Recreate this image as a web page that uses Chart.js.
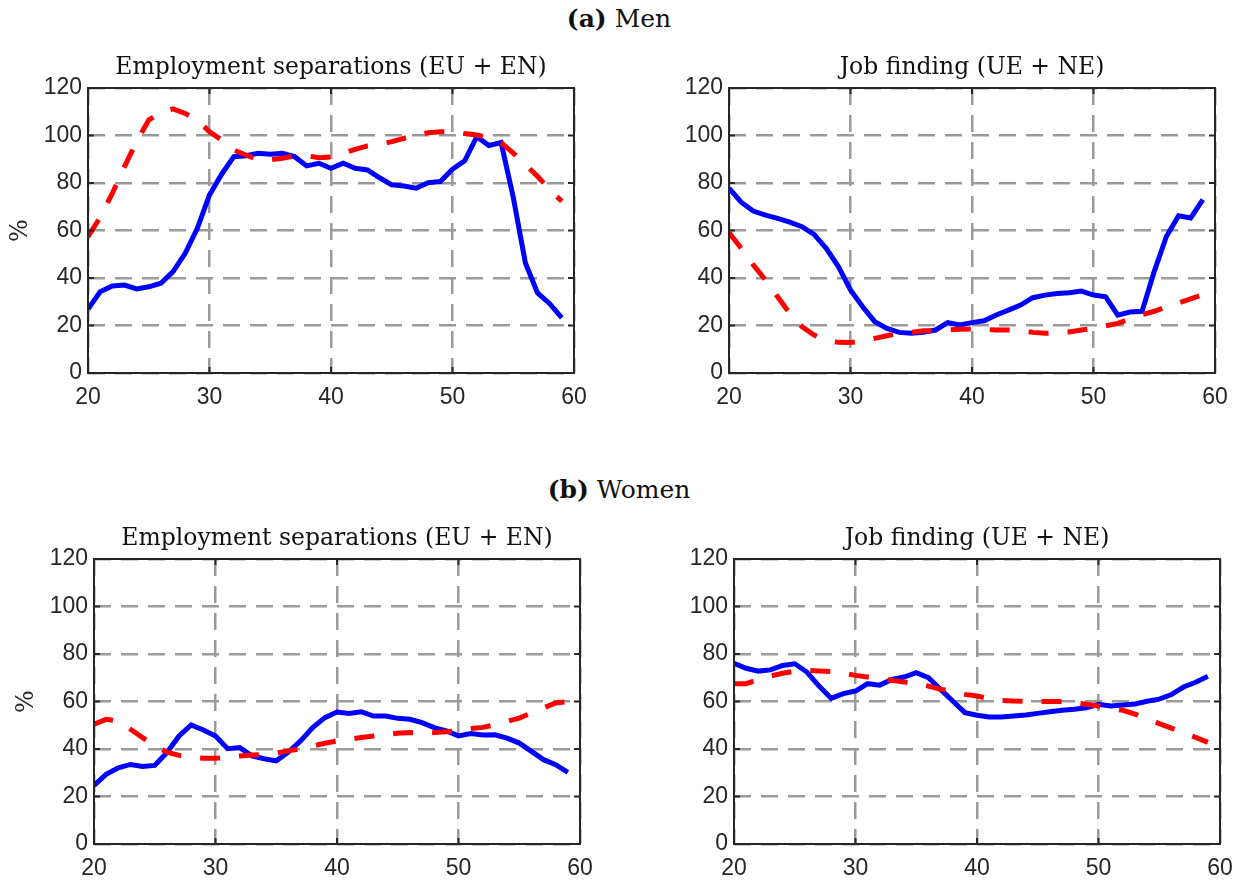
<!DOCTYPE html>
<html>
<head>
<meta charset="utf-8">
<script src="https://cdn.jsdelivr.net/npm/chart.js@4.4.0/dist/chart.umd.min.js"></script>
<style>
  html, body { margin: 0; padding: 0; background: #fff; overflow: hidden; }
  body { width: 1247px; height: 883px; position: relative; }
  canvas { position: absolute; }
  .panel-head {
    position: absolute; left: 0; width: 1238px; text-align: center;
    font-family: "DejaVu Serif", serif; font-size: 25px; line-height: 28px; color: #111;
  }
</style>
</head>
<body>
<div class="panel-head" style="top:5px"><b>(a)</b> Men</div>
<div class="panel-head" style="top:476px"><b>(b)</b> Women</div>
<canvas id="menSep"></canvas>
<canvas id="menJf"></canvas>
<canvas id="womenSep"></canvas>
<canvas id="womenJf"></canvas>
<script>
// ages 20..59
const ages = [20, 21, 22, 23, 24, 25, 26, 27, 28, 29,
              30, 31, 32, 33, 34, 35, 36, 37, 38, 39,
              40, 41, 42, 43, 44, 45, 46, 47, 48, 49,
              50, 51, 52, 53, 54, 55, 56, 57, 58, 59];

const xTicks = [20, 30, 40, 50, 60];
const yTicks = [0, 20, 40, 60, 80, 100, 120];

// men, employment separations (EU + EN)
const menSepData = [26.9, 34.2, 36.6, 37, 35.4, 36.3, 37.8, 42.7, 50.4, 60.9,
                    75, 83.7, 91.1, 91.5, 92.5, 92.1, 92.5, 91.1, 87.2, 88.3,
                    86.2, 88.3, 86.2, 85.5, 82.2, 79.2, 78.7, 77.8, 80.1, 80.6,
                    85.8, 89.3, 99.5, 95.8, 97, 74, 46.3, 33.7, 29.2, 23.2];
const menSepModel = [57.4, 65.5, 75.6, 86.9, 97.4, 106.5, 109.8, 111.2, 109.3, 106.5,
                     101.6, 98.1, 93.9, 91.8, 89.7, 89.8, 90.4, 91.4, 91.5, 90.6,
                     91, 92.5, 94.2, 95.6, 96.2, 97.4, 98.8, 100.2, 101.2, 101.6,
                     101.6, 100.8, 100.2, 99, 97, 92.6, 87.7, 82.8, 77.2, 72.3];

// men, job finding (UE + NE)
const menJfData = [77.8, 71.9, 68.2, 66.5, 65.1, 63.5, 61.6, 58.4, 52.5, 44.8,
                   35, 27.9, 21.6, 18.8, 17.1, 16.7, 17.1, 18.1, 21.2, 20.2,
                   21.2, 22, 24.4, 26.5, 28.6, 31.7, 32.8, 33.5, 33.8, 34.5,
                   32.8, 32.1, 24.4, 25.7, 26, 42.8, 57.5, 66.2, 65.3, 73];
const menJfModel = [59.2, 52.5, 45.5, 39.2, 32.1, 25.1, 19.5, 16, 13.9, 12.9,
                    12.8, 13.5, 14.6, 15.7, 16.7, 17.1, 17.8, 17.8, 18.1, 18.4,
                    18.5, 18.4, 18.1, 18.1, 17.8, 17.1, 16.7, 16.9, 17.3, 18.1,
                    18.8, 19.9, 20.9, 22.7, 24.6, 26, 27.8, 29.5, 31.2, 33];

// women, employment separations (EU + EN)
const womenSepData = [24.7, 29.3, 32.1, 33.5, 32.6, 33.1, 38.5, 45.5, 50.1, 48,
                      45.5, 40.1, 40.6, 37.1, 35.9, 35, 38.7, 43.4, 49, 53.2,
                      55.6, 55, 55.7, 53.9, 53.9, 52.9, 52.5, 51.1, 49, 47.6,
                      45.5, 46.5, 45.9, 46, 44.6, 42.5, 39, 35.5, 33.4, 30.2];
const womenSepModel = [50.4, 52.5, 51.8, 48.3, 44.8, 41.3, 38.7, 37.3, 36.5, 36.1,
                       36.1, 36.5, 37.1, 37.5, 37.6, 38.3, 39.2, 40.1, 41.3, 42.4,
                       43.4, 44.1, 44.8, 45.5, 46.2, 46.6, 46.9, 46.8, 46.9, 47.3,
                       47.6, 48.6, 49.1, 50.2, 51.6, 53, 55.2, 57.3, 59.4, 60];

// women, job finding (UE + NE)
const womenJfData = [76.1, 74, 72.8, 73.3, 75.2, 75.9, 72.4, 66.5, 61.3, 63.3,
                     64.4, 67.5, 66.9, 69.3, 70.3, 72.1, 70, 65.1, 60.2, 55.3,
                     54.2, 53.5, 53.5, 53.9, 54.3, 55, 55.7, 56.3, 56.7, 57.4,
                     58.8, 58.1, 58.5, 58.9, 60.1, 61, 62.9, 66.1, 68.1, 70.6];
const womenJfModel = [67.5, 67.5, 69.3, 70.7, 71.9, 72.8, 73.1, 72.8, 72.6, 71.9,
                      71, 70.3, 69.6, 68.9, 68.2, 67.7, 66.5, 65.1, 64.4, 63,
                      62.3, 61.2, 60.5, 60.2, 60.1, 60, 60, 60, 59.5, 58.8,
                      58.1, 57, 56.3, 54.7, 52.8, 50.7, 48.8, 46.7, 44.9, 42.8];

// layout: plot area left/top of each panel (px)
const Y_AXIS_W = 88, TITLE_H = 34, PLOT_W = 486, PLOT_H = 285, X_AXIS_H = 38, RIGHT_PAD = 26;
const serif = '"DejaVu Serif", serif';
const sans = '"Liberation Sans", Arial, sans-serif';
const ink = '#262626';

// MATLAB style box with inward tick marks
const boxFrame = {
    id: 'boxFrame',
    afterDatasetsDraw(chart) {
        const {ctx, chartArea: a, scales: {x, y}} = chart;
        ctx.save();
        ctx.strokeStyle = ink;
        ctx.lineWidth = 2;
        ctx.setLineDash([]);
        ctx.beginPath();
        x.ticks.forEach(t => {
            const px = x.getPixelForValue(t.value);
            ctx.moveTo(px, a.bottom); ctx.lineTo(px, a.bottom - 6);
            ctx.moveTo(px, a.top); ctx.lineTo(px, a.top + 6);
        });
        y.ticks.forEach(t => {
            const py = y.getPixelForValue(t.value);
            ctx.moveTo(a.left, py); ctx.lineTo(a.left + 6, py);
            ctx.moveTo(a.right, py); ctx.lineTo(a.right - 6, py);
        });
        ctx.stroke();
        ctx.strokeRect(a.left, a.top, a.right - a.left, a.bottom - a.top);
        ctx.restore();
    }
};

const toPoints = (vals) => ages.map((a, i) => ({x: a, y: vals[i]}));

const makePanel = (id, left, top, title, actual, model, yLabel) => {
    const cv = document.getElementById(id);
    cv.width = Y_AXIS_W + PLOT_W + RIGHT_PAD;
    cv.height = TITLE_H + PLOT_H + X_AXIS_H;
    cv.style.left = (left - Y_AXIS_W) + 'px';
    cv.style.top = (top - TITLE_H) + 'px';

    return new Chart(cv, {
        type: 'line',
        data: {
            datasets: [{
                label: 'Data',
                data: toPoints(actual),
                borderColor: '#0000ff',
                borderWidth: 5,
                pointRadius: 0,
                tension: 0,
                order: 2
            }, {
                label: 'Model',
                data: toPoints(model),
                borderColor: '#ff0000',
                borderWidth: 5,
                borderDash: [20, 19],
                pointRadius: 0,
                tension: 0,
                order: 1
            }]
        },
        options: {
            responsive: false,
            animation: false,
            layout: {padding: {left: 0, top: 0, right: RIGHT_PAD, bottom: 0}},
            plugins: {
                legend: {display: false},
                tooltip: {enabled: false},
                title: {
                    display: true,
                    fullSize: false,
                    text: title,
                    color: '#111',
                    font: {family: serif, size: 23.5, weight: 'normal', lineHeight: '28px'},
                    padding: {top: 0, bottom: 6}
                }
            },
            scales: {
                x: {
                    type: 'linear',
                    min: xTicks[0],
                    max: xTicks[xTicks.length - 1],
                    afterBuildTicks: (s) => { s.ticks = xTicks.map(v => ({value: v})); },
                    afterFit: (s) => { s.height = X_AXIS_H; },
                    grid: {color: '#9a9a9a', lineWidth: 2.5, drawTicks: false},
                    border: {display: false, dash: [17, 10]},
                    ticks: {
                        color: ink, padding: 11, maxRotation: 0, autoSkip: false,
                        font: {family: sans, size: 23}
                    }
                },
                y: {
                    min: yTicks[0],
                    max: yTicks[yTicks.length - 1],
                    afterBuildTicks: (s) => { s.ticks = yTicks.map(v => ({value: v})); },
                    afterFit: (s) => { s.width = Y_AXIS_W; },
                    grid: {color: '#9a9a9a', lineWidth: 2.5, drawTicks: false},
                    border: {display: false, dash: [17, 10]},
                    ticks: {
                        color: ink, padding: 6, autoSkip: false,
                        font: {family: sans, size: 23}
                    },
                    title: {
                        display: !!yLabel,
                        text: yLabel || '',
                        color: ink,
                        font: {family: serif, size: 24, lineHeight: '28px'},
                        padding: {top: 7, bottom: 0}
                    }
                }
            }
        },
        plugins: [boxFrame]
    });
};

makePanel('menSep', 88, 88, 'Employment separations (EU + EN)', menSepData, menSepModel, '%');
makePanel('menJf', 729, 88, 'Job finding (UE + NE)', menJfData, menJfModel, null);
makePanel('womenSep', 94, 559, 'Employment separations (EU + EN)', womenSepData, womenSepModel, '%');
makePanel('womenJf', 734, 559, 'Job finding (UE + NE)', womenJfData, womenJfModel, null);
</script>
</body>
</html>
